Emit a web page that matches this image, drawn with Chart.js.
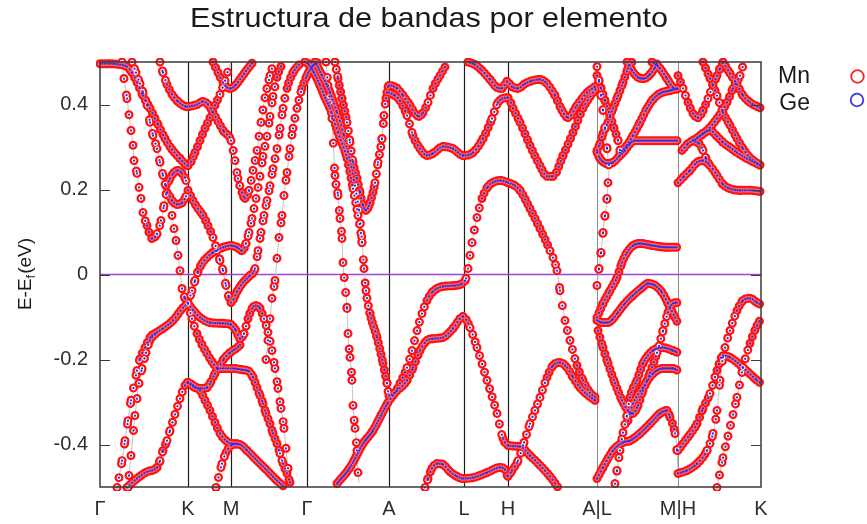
<!DOCTYPE html>
<html>
<head>
<meta charset="utf-8">
<script src="https://cdn.jsdelivr.net/npm/chart.js@4.4.1/dist/chart.umd.min.js"></script>
<style>
  html, body { margin: 0; padding: 0; background: #fff; }
</style>
</head>
<body>
<canvas id="bandChart" width="867" height="524"></canvas>
<script>
// Ejes: camino en k y etiquetas de los puntos de alta simetría
const kTicks = [0, 88, 131, 207, 289, 364, 408, 497, 578, 661];
const kLabels = ['Γ', 'K', 'M', 'Γ', 'A', 'L', 'H', 'A|L', 'M|H', 'K'];
const eTicks = [-0.4, -0.2, 0, 0.2, 0.4];
const elementos = ['Mn', 'Ge'];

// Bandas [k, E-Ef (eV)]
// Γ - K - M - Γ
const b01 = [[0,0.496],[10,0.496],[20,0.494],[27,0.489],[32,0.475],[37,0.452],[43,0.421],[50,0.391],[58,0.353],[65,0.32],[72,0.294],[80,0.273],[88,0.256],[95,0.287],[100,0.315],[105,0.344],[110,0.369],[115,0.398],[120,0.424],[125,0.456],[130,0.496]];
const b02 = [[60,0.5],[63,0.475],[67,0.447],[72,0.424],[78,0.407],[87,0.395],[97,0.4],[103,0.407],[108,0.4],[113,0.381],[118,0.36],[124,0.336],[131,0.315],[135,0.268],[138,0.226],[142,0.193],[145,0.179],[149,0.198],[153,0.245],[157,0.292],[161,0.358],[165,0.416],[170,0.468],[174,0.5]];
const b03 = [[113,0.5],[118,0.475],[123,0.452],[127,0.44],[131,0.438],[136,0.447],[142,0.466],[148,0.485],[153,0.5]];
const b04 = [[22,0.5],[24,0.461],[27,0.414],[29,0.376],[31,0.339],[33,0.304],[34,0.268],[37,0.238],[39,0.205],[41,0.179],[43,0.146],[47,0.115],[52,0.085],[57,0.096],[61,0.127],[64,0.162],[67,0.193],[72,0.174],[77,0.165],[82,0.169],[86,0.184],[88,0.198]];
const b05 = [[32,0.5],[36,0.475],[40,0.449],[43,0.428],[47,0.398],[50,0.358],[53,0.327],[57,0.296],[60,0.264],[63,0.233],[66,0.209],[70,0.226],[74,0.24],[78,0.245],[82,0.238],[86,0.221],[88,0.202]];
const b06 = [[88,0.198],[93,0.174],[98,0.155],[103,0.139],[108,0.115],[113,0.087],[117,0.056],[120,0.033],[123,0.009],[126,-0.026],[129,-0.054],[131,-0.066],[137,-0.04],[143,-0.019],[150,-0.002],[155,0.014],[158,0.056],[161,0.099],[164,0.139],[167,0.174],[170,0.209],[173,0.249],[177,0.296],[180,0.344],[183,0.391],[187,0.438],[193,0.475],[200,0.496]];
const b07 = [[88,-0.068],[92,-0.038],[95,-0.014],[98,0.007],[102,0.026],[107,0.04],[113,0.052],[123,0.064],[131,0.068],[137,0.064],[142,0.056],[146,0.073],[149,0.099],[152,0.132],[156,0.179],[160,0.231],[163,0.278],[167,0.325],[170,0.372],[173,0.419],[177,0.464],[182,0.496]];
const b08 = [[166,-0.2],[168,-0.155],[170,-0.104],[172,-0.056],[175,-0.014],[177,0.038],[179,0.087],[182,0.139],[184,0.186],[187,0.24],[190,0.296],[193,0.344],[197,0.391],[202,0.438],[207,0.468],[212,0.489],[218,0.5]];
const b09 = [[88,-0.068],[95,-0.089],[100,-0.101],[110,-0.113],[123,-0.115],[131,-0.118],[136,-0.132],[140,-0.151],[144,-0.139],[148,-0.104],[152,-0.08],[156,-0.073],[160,-0.08],[164,-0.104],[168,-0.136],[172,-0.179],[175,-0.221],[178,-0.268],[181,-0.315],[184,-0.362],[186,-0.409],[188,-0.456],[190,-0.501]];
const b10 = [[118,-0.221],[124,-0.198],[130,-0.184],[136,-0.174],[142,-0.162]];
const b11 = [[88,-0.068],[92,-0.104],[97,-0.139],[102,-0.165],[107,-0.186],[112,-0.205],[118,-0.221],[125,-0.221],[133,-0.221],[142,-0.224],[149,-0.228],[153,-0.242],[157,-0.266],[160,-0.285],[163,-0.304],[166,-0.327],[170,-0.351],[173,-0.374],[177,-0.398],[180,-0.421],[183,-0.445],[187,-0.468],[190,-0.489],[192,-0.501]];
const b12 = [[17,-0.501],[19,-0.478],[22,-0.438],[25,-0.391],[28,-0.344],[31,-0.296],[34,-0.261],[37,-0.226],[40,-0.198],[45,-0.172],[50,-0.148],[57,-0.136],[63,-0.127],[73,-0.108],[83,-0.078],[88,-0.068]];
const b13 = [[28,-0.501],[29,-0.473],[31,-0.426],[33,-0.379],[35,-0.332],[37,-0.292],[39,-0.256],[42,-0.221],[46,-0.184],[50,-0.155],[55,-0.141]];
const b14 = [[27,-0.501],[37,-0.48],[47,-0.464],[57,-0.454],[60,-0.438],[63,-0.414],[67,-0.391],[70,-0.367],[75,-0.329],[80,-0.292],[85,-0.261],[88,-0.254],[93,-0.261],[100,-0.273],[105,-0.296],[110,-0.32],[115,-0.348],[120,-0.374],[127,-0.393],[132,-0.398],[140,-0.4],[147,-0.414],[157,-0.438],[167,-0.461],[177,-0.485],[185,-0.501]];
const b15 = [[88,-0.254],[95,-0.266],[102,-0.268],[107,-0.266],[111,-0.252],[115,-0.233],[118,-0.221]];
const b16 = [[116,-0.501],[119,-0.473],[122,-0.445],[126,-0.419],[131,-0.402],[137,-0.398]];
const b17 = [[72,0.139],[74,0.108],[76,0.08],[78,0.045],[80,0.009],[82,-0.033],[85,-0.056],[88,-0.068]];
// Γ - A - L - H - A
const b18 = [[205,0.5],[208,0.496],[214,0.475],[220,0.445],[225,0.416],[230,0.391],[238,0.334],[247,0.273],[253,0.202],[258,0.139],[262,0.075],[264,0.014],[266,-0.038],[270,-0.092],[277,-0.148],[283,-0.209],[287,-0.256],[289,-0.285],[297,-0.273],[307,-0.249],[313,-0.219],[320,-0.179],[327,-0.155],[333,-0.151],[343,-0.148],[353,-0.127],[363,-0.099],[370,-0.125],[377,-0.172],[387,-0.249],[397,-0.327],[403,-0.386],[408,-0.402],[420,-0.405],[430,-0.426],[440,-0.449],[450,-0.475],[458,-0.501]];
const b19 = [[215,0.5],[222,0.468],[230,0.428],[237,0.381],[244,0.327],[250,0.268],[255,0.209],[259,0.151],[262,0.08]];
const b20 = [[226,0.5],[228,0.445],[230,0.405],[232,0.367],[235,0.233],[238,0.186],[240,0.132],[242,0.085],[243,0.028],[245,-0.026],[247,-0.08],[248,-0.139],[250,-0.195],[252,-0.249],[253,-0.308],[255,-0.362],[257,-0.414],[258,-0.466],[259,-0.49]];
const b21 = [[235,0.5],[238,0.461],[242,0.414],[247,0.358],[250,0.311],[253,0.264],[257,0.226],[260,0.193],[263,0.162],[266,0.151],[270,0.169],[275,0.216],[278,0.264],[282,0.32],[284,0.374],[286,0.415],[289,0.445],[297,0.438],[303,0.421],[310,0.398],[315,0.379],[319,0.372],[323,0.381],[328,0.405],[333,0.438],[340,0.468],[347,0.496]];
const b22 = [[289,0.428],[295,0.421],[300,0.409],[307,0.374],[313,0.327],[320,0.296],[327,0.28],[333,0.285],[343,0.301],[353,0.296],[363,0.28],[373,0.287],[383,0.32],[392,0.367],[398,0.405],[408,0.416],[413,0.391],[420,0.358],[430,0.304],[440,0.256],[447,0.231],[453,0.231],[463,0.28],[473,0.334],[483,0.391],[493,0.428],[497,0.44]];
const b23 = [[237,-0.492],[250,-0.454],[263,-0.398],[273,-0.367],[282,-0.327],[288,-0.301],[295,-0.278],[300,-0.256],[307,-0.219],[312,-0.179],[317,-0.132],[322,-0.092],[327,-0.061],[333,-0.04],[343,-0.028],[355,-0.026],[362,-0.021],[366,-0.009],[368,0.014],[370,0.045],[372,0.075],[377,0.134],[382,0.179],[388,0.207],[395,0.219],[401,0.221],[408,0.216],[415,0.209],[420,0.198],[430,0.155],[440,0.108],[450,0.056],[457,0.009],[460,-0.038],[465,-0.108],[470,-0.155],[477,-0.214],[483,-0.249],[490,-0.278],[497,-0.292]];
const b24 = [[368,0.5],[375,0.494],[382,0.48],[390,0.459],[397,0.44],[402,0.438],[407,0.454],[412,0.442],[418,0.438],[425,0.449],[432,0.456],[440,0.459],[447,0.449],[455,0.421],[462,0.386],[468,0.369],[477,0.398],[487,0.428],[495,0.442],[497,0.445]];
const b25 = [[325,-0.501],[328,-0.48],[332,-0.456],[337,-0.445],[343,-0.447],[350,-0.464],[357,-0.475],[363,-0.48],[373,-0.478],[387,-0.466],[400,-0.454],[405,-0.459],[408,-0.475],[412,-0.461],[418,-0.438],[424,-0.395],[430,-0.351],[440,-0.289],[447,-0.242],[453,-0.214],[460,-0.207],[467,-0.219],[473,-0.242],[480,-0.266],[487,-0.282],[495,-0.296],[497,-0.299]];
// L - M
const b26 = [[497,0.489],[499,0.456],[501,0.421],[503,0.386],[505,0.344],[507,0.296],[509,0.256]];
const b27 = [[497,-0.026],[499,0.014],[501,0.052],[503,0.099],[505,0.139],[507,0.179],[508,0.216],[509,0.245]];
const b28 = [[497,0.287],[500,0.273],[507,0.261],[513,0.264],[520,0.28],[525,0.292],[530,0.308],[535,0.315],[543,0.315],[560,0.315],[578,0.315]];
const b29 = [[497,0.292],[500,0.308],[503,0.332],[508,0.358],[513,0.391],[518,0.421],[523,0.452],[528,0.485],[532,0.5]];
const b30 = [[497,0.468],[501,0.438],[505,0.409],[510,0.374],[514,0.344],[518,0.315],[520,0.292]];
const b31 = [[527,0.5],[532,0.48],[538,0.464],[544,0.461],[550,0.471],[555,0.487],[558,0.5]];
const b32 = [[552,0.5],[560,0.485],[567,0.461],[573,0.44],[578,0.435]];
const b33 = [[520,0.287],[527,0.304],[533,0.327],[540,0.358],[547,0.391],[553,0.412],[560,0.426],[570,0.433],[578,0.438]];
const b34 = [[497,-0.101],[503,-0.068],[510,-0.038],[517,-0.007],[522,0.028],[527,0.052],[533,0.068],[540,0.073],[553,0.068],[567,0.064],[578,0.064]];
const b35 = [[497,-0.108],[502,-0.113],[508,-0.113],[513,-0.104],[518,-0.089],[525,-0.068],[533,-0.049],[542,-0.031],[548,-0.021],[555,-0.026],[562,-0.042],[568,-0.068],[575,-0.101],[578,-0.115]];
const b36 = [[498,-0.132],[503,-0.172],[508,-0.209],[515,-0.256],[522,-0.296],[528,-0.32],[533,-0.327],[538,-0.308],[543,-0.273],[550,-0.231],[557,-0.184],[563,-0.132],[568,-0.089],[573,-0.068],[578,-0.066]];
const b37 = [[527,-0.332],[530,-0.289],[537,-0.249],[543,-0.209],[553,-0.179],[563,-0.172],[573,-0.179],[578,-0.184]];
const b38 = [[528,-0.344],[533,-0.304],[543,-0.266],[553,-0.233],[563,-0.221],[573,-0.221],[578,-0.226]];
const b39 = [[497,-0.48],[503,-0.454],[513,-0.414],[523,-0.395],[530,-0.391],[540,-0.374],[550,-0.351],[560,-0.327],[567,-0.32],[570,-0.336],[575,-0.374],[577,-0.414],[578,-0.468]];
const b40 = [[515,-0.492],[517,-0.461],[520,-0.414],[523,-0.372],[527,-0.332]];
// H - K
const b41 = [[578,0.468],[583,0.438],[588,0.405],[593,0.379],[598,0.369],[603,0.386],[608,0.414],[613,0.445],[617,0.468],[620,0.485],[623,0.5]];
const b42 = [[578,0.216],[584,0.231],[590,0.245],[597,0.264],[603,0.268],[610,0.256],[617,0.233],[623,0.212],[630,0.202],[640,0.198],[650,0.198],[661,0.195]];
const b43 = [[582,0.292],[588,0.308],[595,0.318],[603,0.332],[610,0.339],[617,0.325],[623,0.311],[630,0.299],[637,0.287],[647,0.273],[661,0.256]];
const b44 = [[593,0.315],[599,0.308],[603,0.292],[606,0.273],[610,0.256]];
const b45 = [[597,0.32],[607,0.339],[617,0.367],[627,0.405],[633,0.438],[640,0.468],[644,0.5]];
const b46 = [[623,0.5],[630,0.473],[637,0.447],[643,0.421],[650,0.405],[661,0.391]];
const b47 = [[603,0.5],[610,0.461],[617,0.421],[623,0.381],[630,0.351],[637,0.32],[643,0.296],[650,0.275],[661,0.256]];
const b48 = [[578,-0.468],[587,-0.461],[597,-0.445],[607,-0.414],[613,-0.374],[617,-0.32],[620,-0.249],[623,-0.195],[630,-0.132],[637,-0.085],[643,-0.061],[650,-0.056],[657,-0.066],[661,-0.071]];
const b49 = [[617,-0.501],[623,-0.431],[630,-0.36],[637,-0.289],[643,-0.219],[650,-0.162],[657,-0.12],[661,-0.104]];
const b50 = [[578,-0.414],[583,-0.398],[590,-0.376],[597,-0.351],[603,-0.315],[610,-0.28],[617,-0.226],[623,-0.191],[630,-0.195],[643,-0.219],[657,-0.249],[661,-0.256]];

const bands = [b01,b02,b03,b04,b05,b06,b07,b08,b09,b10,b11,b12,b13,b14,b15,b16,b17,b18,b19,b20,
  b21,b22,b23,b24,b25,b26,b27,b28,b29,b30,b31,b32,b33,b34,b35,b36,b37,b38,b39,b40,
  b41,b42,b43,b44,b45,b46,b47,b48,b49,b50];

Chart.defaults.font.family = '"Liberation Sans", Arial, sans-serif';
Chart.defaults.color = '#2a2a2a';

// puntos por tramo del camino: Γ-A está muestreado más denso
function pasoK(kMid) {
  if (kMid >= 207 && kMid < 289) return 1.3;
  if (kMid >= 131 && kMid < 207) return 2.0;
  if (kMid >= 497 && kMid < 578) return 1.9;
  return 2.5;
}

// separación de los círculos según la pendiente del tramo
function dotGap(ctx) {
  const dx = Math.abs(ctx.p1.x - ctx.p0.x);
  const dy = Math.abs(ctx.p1.y - ctx.p0.y);
  const s = dy / Math.max(dx, 0.4);
  const kMid = ((ctx.p0.x + ctx.p1.x) / 2) - ctx.chart.chartArea.left;
  return Math.min(pasoK(kMid) * Math.sqrt(1 + s * s), 30);
}

const datasets = [];
bands.forEach(b => {
  const pts = b.map(p => ({ x: p[0], y: p[1] }));
  const base = { data: pts, pointRadius: 0, cubicInterpolationMode: 'monotone', clip: 4, fill: false };
  datasets.push({ ...base, label: 'linea', borderColor: '#c2c2c2', borderWidth: 1, order: 4 });
  datasets.push({ ...base, label: elementos[0], borderColor: '#ff1212', borderWidth: 9, borderCapStyle: 'round', order: 3,
    segment: { borderDash: c => [0.01, dotGap(c)] } });
  datasets.push({ ...base, label: elementos[0], borderColor: '#ff7070', borderWidth: 4.6, borderCapStyle: 'round', order: 2,
    segment: { borderDash: c => [0.01, dotGap(c)], borderColor: c => dotGap(c) > 7 ? '#ffffff' : '#ff6a6a' } });
  datasets.push({ ...base, label: elementos[1], borderColor: '#3030e8', borderWidth: 2.3, borderCapStyle: 'round', order: 1,
    segment: { borderDash: c => [0.01, dotGap(c)] } });
});

const marco = {
  id: 'marco',
  beforeDatasetsDraw(chart) {
    const { ctx, chartArea: a, scales: { x, y } } = chart;
    ctx.save();
    kTicks.forEach((k, i) => {
      if (i === 0 || i === kTicks.length - 1) return;
      const px = Math.round(x.getPixelForValue(k)) + 0.5;
      const doble = kLabels[i].includes('|');
      ctx.strokeStyle = doble ? '#8c8c8c' : '#1e1e1e';
      ctx.lineWidth = doble ? 1 : 1.2;
      ctx.beginPath();
      ctx.moveTo(px, a.top);
      ctx.lineTo(px, a.bottom);
      ctx.stroke();
    });
    const py = y.getPixelForValue(0);
    ctx.strokeStyle = '#a044d6';
    ctx.lineWidth = 1.5;
    ctx.beginPath();
    ctx.moveTo(a.left, py);
    ctx.lineTo(a.right, py);
    ctx.stroke();
    ctx.restore();
  },
  afterDatasetsDraw(chart) {
    const { ctx, chartArea: a, scales: { y } } = chart;
    ctx.save();
    ctx.strokeStyle = '#3a3a3a';
    ctx.lineWidth = 1.5;
    ctx.strokeRect(a.left, a.top, a.right - a.left, a.bottom - a.top);
    ctx.lineWidth = 1.2;
    eTicks.forEach(v => {
      const py = Math.round(y.getPixelForValue(v)) + 0.5;
      ctx.beginPath();
      ctx.moveTo(a.left, py); ctx.lineTo(a.left + 10, py);
      ctx.moveTo(a.right, py); ctx.lineTo(a.right - 10, py);
      ctx.stroke();
    });
    ctx.restore();
  },
  afterDraw(chart) {
    const { ctx } = chart;
    ctx.save();
    // título
    const titulo = 'Estructura de bandas por elemento';
    ctx.font = '28px "Liberation Sans", Arial, sans-serif';
    ctx.fillStyle = '#1a1a1a';
    ctx.textBaseline = 'alphabetic';
    ctx.textAlign = 'center';
    const w = ctx.measureText(titulo).width;
    ctx.save();
    ctx.translate(429, 27);
    ctx.scale(478 / w, 1);
    ctx.fillText(titulo, 0, 0);
    ctx.restore();

    // eje y: E-E_f(eV)
    ctx.save();
    ctx.translate(31, 274);
    ctx.rotate(-Math.PI / 2);
    ctx.textAlign = 'left';
    const big = '19px "Liberation Sans", Arial, sans-serif';
    const small = '13px "Liberation Sans", Arial, sans-serif';
    ctx.font = big;
    const w1 = ctx.measureText('E-E').width;
    const w3 = ctx.measureText('(eV)').width;
    ctx.font = small;
    const w2 = ctx.measureText('f').width + 1;
    const x0 = -(w1 + w2 + w3) / 2;
    ctx.font = big; ctx.fillText('E-E', x0, 0);
    ctx.font = small; ctx.fillText('f', x0 + w1, 4);
    ctx.font = big; ctx.fillText('(eV)', x0 + w1 + w2, 0);
    ctx.restore();

    // leyenda
    ctx.font = '23px "Liberation Sans", Arial, sans-serif';
    ctx.textAlign = 'right';
    ctx.fillStyle = '#1a1a1a';
    ctx.fillText(elementos[0], 810, 83);
    ctx.fillText(elementos[1], 810, 110);
    ctx.lineWidth = 1.8;
    ctx.strokeStyle = '#ff2020';
    ctx.beginPath(); ctx.arc(857.5, 76.5, 6.3, 0, Math.PI * 2); ctx.stroke();
    ctx.strokeStyle = '#3a3ae8';
    ctx.beginPath(); ctx.arc(857, 100, 6.3, 0, Math.PI * 2); ctx.stroke();
    ctx.restore();
  }
};

new Chart(document.getElementById('bandChart'), {
  type: 'line',
  data: { datasets },
  options: {
    responsive: false,
    devicePixelRatio: 1,
    animation: false,
    events: [],
    layout: { padding: { top: 62, right: 106, left: 0, bottom: 0 } },
    plugins: { legend: { display: false }, tooltip: { enabled: false }, title: { display: false } },
    scales: {
      x: {
        type: 'linear', min: 0, max: 661,
        grid: { display: false, drawTicks: false },
        border: { display: false },
        afterBuildTicks: s => { s.ticks = kTicks.map(v => ({ value: v })); },
        afterFit: s => { s.height = 37; },
        ticks: { autoSkip: false, maxRotation: 0, minRotation: 0, padding: 10,
          font: { size: 20 }, color: '#2e2e2e',
          callback: (v, i) => kLabels[i] }
      },
      y: {
        type: 'linear', min: -0.5, max: 0.5,
        grid: { display: false, drawTicks: false },
        border: { display: false },
        afterBuildTicks: s => { s.ticks = eTicks.map(v => ({ value: v })); },
        afterFit: s => { s.width = 100; },
        ticks: { padding: 12, font: { size: 20 }, color: '#2e2e2e',
          callback: v => (v === 0 ? '0' : v.toFixed(1)) }
      }
    }
  },
  plugins: [marco]
});
</script>
</body>
</html>
